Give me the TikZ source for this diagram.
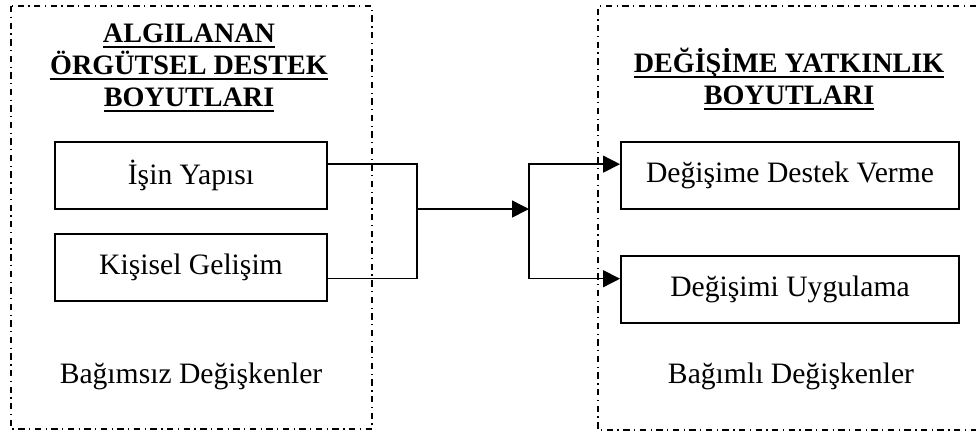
\documentclass[tikz,border=0pt]{standalone}
\usepackage{fontspec}
\setmainfont{Liberation Serif}
\usetikzlibrary{arrows.meta, positioning}

% thick underline for the headings
\newsavebox\ttlbox
\newcommand{\undl}[1]{\sbox\ttlbox{#1}\rlap{\rule[-2.3pt]{\wd\ttlbox}{0.8pt}}\usebox\ttlbox}

\begin{document}
\begin{tikzpicture}[x=0.405pt, y=-0.405pt, node distance=9.3pt,
  kutu/.style={draw, line width=0.8pt, minimum height=27.2pt, inner sep=0pt,
    font=\fontsize{12}{14}\selectfont},
  baslik/.style={align=center, inner sep=0pt, font=\bfseries\fontsize{11.4}{12.9}\selectfont},
  alt/.style={inner sep=0pt, font=\fontsize{12}{14}\selectfont},
  cerceve/.style={line width=0.6pt, dash pattern=on 2.6pt off 1.8pt on 0.5pt off 1.8pt},
  bag/.style={line width=0.6pt},
  ok/.style={bag, -{Triangle[length=6.8pt, width=6.8pt]}}]
\useasboundingbox (0,0) rectangle (976,435);

% the two groups
\draw[cerceve] (11,6) rectangle (372,429);
\draw[cerceve] (976,6) -- (598,6) -- (598,430) -- (976,430);

% base is the last line of a multi-line node
\node[baslik, anchor=base] (sol) at (189,106)
  {\undl{ALGILANAN}\\\undl{ÖRGÜTSEL DESTEK}\\\undl{BOYUTLARI}};
\node[baslik, anchor=base] (sag) at (789,104)
  {\undl{DEĞİŞİME YATKINLIK}\\\undl{BOYUTLARI}};

\node[kutu, minimum width=110.2pt] (isin) at (191,175.5) {İşin Yapısı};
\node[kutu, minimum width=110.2pt, below=of isin] (kisisel) {Kişisel Gelişim};
\node[kutu, minimum width=136.9pt] (destek) at (790,175.5) {Değişime Destek Verme};
\node[kutu, minimum width=136.9pt, below=18.2pt of destek] (uygulama) {Değişimi Uygulama};

\node[alt, anchor=base] (bagimsiz) at (191,383) {Bağımsız Değişkenler};
\node[alt, anchor=base] (bagimli) at (791,383) {Bağımlı Değişkenler};

% connectors
\coordinate (j1) at (417,209);
\coordinate (j2) at (529,209);
\draw[bag] ([yshift=4.6pt]isin.east) -| (j1);
\draw[bag] ([yshift=-4.4pt]kisisel.east) -| (j1);
\draw[ok] (j1) -- (j2);
\draw[ok] (j2) |- ([yshift=4.6pt]destek.west);
\draw[ok] (j2) |- ([yshift=4.4pt]uygulama.west);
\end{tikzpicture}
\end{document}
